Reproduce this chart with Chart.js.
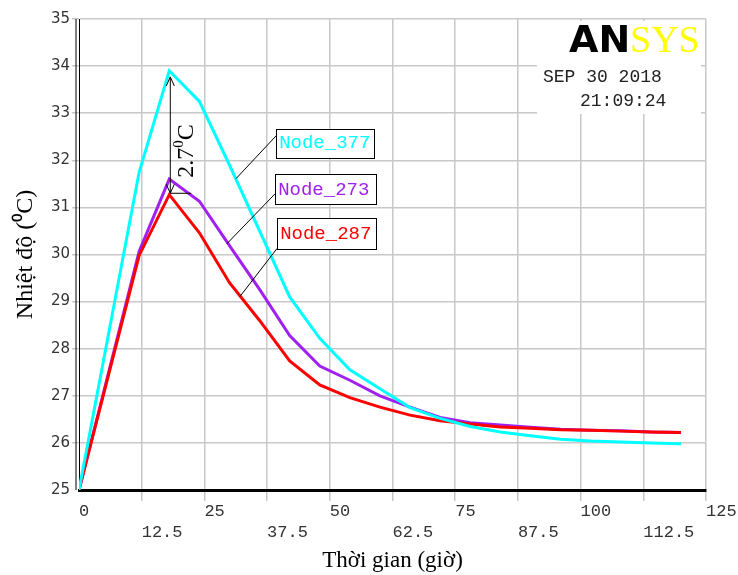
<!DOCTYPE html>
<html>
<head>
<meta charset="utf-8">
<script src="https://cdn.jsdelivr.net/npm/chart.js@4.4.0/dist/chart.umd.min.js"></script>
<style>
  body { margin: 0; background: #fff; }
</style>
</head>
<body>
<canvas id="chart" width="738" height="575"></canvas>
<script>
// time (hours) and node temperatures
const hours = [0, 12, 18, 24, 30, 36, 42, 48, 54, 60, 66, 72, 78, 84, 90, 96, 102, 108, 114, 120];
const node377 = [25, 31.75, 33.9, 33.25, 31.9, 30.5, 29.1, 28.22, 27.55, 27.15, 26.75, 26.52, 26.35, 26.23, 26.15, 26.08, 26.04, 26.02, 26.0, 25.98];
const node273 = [25, 30.07, 31.6, 31.13, 30.19, 29.26, 28.28, 27.63, 27.33, 27.0, 26.76, 26.54, 26.43, 26.38, 26.33, 26.29, 26.27, 26.26, 26.23, 26.22];
const node287 = [25, 29.98, 31.27, 30.46, 29.4, 28.6, 27.74, 27.23, 26.96, 26.76, 26.59, 26.47, 26.4, 26.34, 26.31, 26.28, 26.27, 26.25, 26.23, 26.22];

const seriesNames = ["Node_377", "Node_287", "Node_273"];
const seriesColors = ["#00ffff", "#ff0000", "#a020f0"];

const GRID = "#c8c8c8";
const pts = (vals) => hours.map((h, i) => ({ x: h, y: vals[i] }));

// labels, date stamp, the 2.7 arrow
const overlay = {
  id: "overlay",
  beforeDatasetsDraw(chart) {
    const { ctx, chartArea: a } = chart;
    ctx.save();
    // second line of the y axis
    ctx.strokeStyle = "#000";
    ctx.lineWidth = 1;
    ctx.beginPath();
    ctx.moveTo(a.left - 3, a.top);
    ctx.lineTo(a.left - 3, a.bottom);
    ctx.stroke();

    // ANSYS stamp
    ctx.fillStyle = "#fff";
    ctx.fillRect(a.right - 169, a.top + 2, 164, 93);
    ctx.textBaseline = "alphabetic";
    ctx.textAlign = "left";
    ctx.fillStyle = "#000";
    ctx.font = "bold 38px 'DejaVu Sans'";
    ctx.fillText("AN", 569, 52);
    ctx.fillStyle = "#ffff00";
    ctx.font = "38px 'Liberation Serif'";
    ctx.fillText("SYS", 630, 52);
    ctx.fillStyle = "#222";
    ctx.font = "18px 'Liberation Mono'";
    ctx.textBaseline = "middle";
    ctx.fillText("SEP 30 2018", 543, 77);
    ctx.fillText("21:09:24", 580, 101);
    ctx.restore();
  },
  afterDatasetsDraw(chart) {
    const { ctx } = chart;
    const x = chart.scales.x, y = chart.scales.y;
    const X = (v) => x.getPixelForValue(v), Y = (v) => y.getPixelForValue(v);
    ctx.save();
    ctx.strokeStyle = "#000";
    ctx.lineWidth = 1;

    // double arrow between the peaks
    const ax = X(18.2), top = Y(33.77), bot = Y(31.3);
    ctx.beginPath();
    ctx.moveTo(ax, top); ctx.lineTo(ax, bot);
    ctx.moveTo(ax - 4, top + 9); ctx.lineTo(ax, top); ctx.lineTo(ax + 4, top + 9);
    ctx.moveTo(ax - 4, bot - 9); ctx.lineTo(ax, bot); ctx.lineTo(ax + 4, bot - 9);
    ctx.moveTo(ax, bot); ctx.lineTo(ax + 21, bot);
    ctx.stroke();

    // "2.7°C" rotated
    ctx.save();
    ctx.translate(X(21.4), Y(32.2));
    ctx.rotate(-Math.PI / 2);
    ctx.fillStyle = "#000";
    ctx.textBaseline = "middle";
    ctx.textAlign = "left";
    ctx.font = "24px 'Liberation Serif'";
    const w1 = ctx.measureText("2.7").width;
    ctx.font = "15px 'Liberation Serif'";
    const w2 = ctx.measureText("0").width;
    ctx.font = "24px 'Liberation Serif'";
    const w3 = ctx.measureText("C").width;
    let sx = -(w1 + w2 + w3) / 2;
    ctx.fillText("2.7", sx, 0);
    ctx.font = "15px 'Liberation Serif'";
    ctx.fillText("0", sx + w1, -7);
    ctx.font = "24px 'Liberation Serif'";
    ctx.fillText("C", sx + w1 + w2, 0);
    ctx.restore();

    // node callout boxes with leader lines
    const boxes = [
      { name: seriesNames[0], color: seriesColors[0], t0: 39.3, t1: 58.9, T0: 32.67, T1: 32.06, lt: 31.3, lT: 31.61, at: 32.52 },
      { name: seriesNames[2], color: seriesColors[2], t0: 39.1, t1: 59.2, T0: 31.70, T1: 31.06, lt: 29.5, lT: 30.23, at: 31.29 },
      { name: seriesNames[1], color: seriesColors[1], t0: 39.5, t1: 59.2, T0: 30.77, T1: 30.11, lt: 32.1, lT: 29.11, at: 30.13 },
    ];
    boxes.forEach((b) => {
      const l = X(b.t0), r = X(b.t1), t = Y(b.T0), bt = Y(b.T1);
      ctx.strokeStyle = "#000";
      ctx.lineWidth = 1;
      ctx.beginPath();
      ctx.moveTo(l, Y(b.at));
      ctx.lineTo(X(b.lt), Y(b.lT));
      ctx.stroke();
      ctx.fillStyle = "#fff";
      ctx.fillRect(l, t, r - l, bt - t);
      ctx.strokeRect(Math.round(l) + 0.5, Math.round(t) + 0.5, Math.round(r - l), Math.round(bt - t));
      ctx.fillStyle = b.color;
      ctx.font = "19px 'Liberation Mono'";
      ctx.textAlign = "left";
      ctx.textBaseline = "middle";
      ctx.fillText(b.name, l + 3, (t + bt) / 2);
    });
    ctx.restore();
  },
};

new Chart(document.getElementById("chart"), {
  type: "line",
  data: {
    datasets: [
      { label: seriesNames[0], data: pts(node377), borderColor: seriesColors[0] },
      { label: seriesNames[1], data: pts(node287), borderColor: seriesColors[1] },
      { label: seriesNames[2], data: pts(node273), borderColor: seriesColors[2] },
    ],
  },
  options: {
    responsive: false,
    animation: false,
    layout: { padding: { top: 19, right: 32, left: 0, bottom: 0 } },
    elements: {
      point: { radius: 0 },
      line: { borderWidth: 3, tension: 0, fill: false },
    },
    plugins: {
      legend: { display: false },
      tooltip: { enabled: false },
    },
    scales: {
      x: {
        type: "linear",
        min: 0,
        max: 125,
        afterFit: (s) => { s.height = 85; },
        border: { color: "#000", width: 3 },
        grid: {
          color: (c) => (c.tick && c.tick.value === 0 ? "rgba(0,0,0,0)" : GRID),
          lineWidth: 1.5,
          tickLength: 11,
        },
        ticks: {
          stepSize: 12.5,
          autoSkip: false,
          maxRotation: 0,
          align: "start",
          padding: 0,
          color: "#333",
          font: { family: "'Liberation Mono'", size: 17, lineHeight: 1.25 },
          callback: (v) => (v % 25 === 0 ? String(v) : ["", String(v)]),
        },
        title: {
          display: true,
          text: "Thời gian (giờ)",
          color: "#000",
          font: { family: "'Liberation Serif'", size: 23 },
          padding: { top: 0, bottom: 0 },
        },
      },
      y: {
        min: 25,
        max: 35,
        afterFit: (s) => { s.width = 79; },
        border: { color: "#000", width: 1 },
        grid: {
          color: (c) => (c.tick && c.tick.value === 25 ? "rgba(0,0,0,0)" : GRID),
          lineWidth: 1.5,
          tickLength: 7,
        },
        ticks: {
          stepSize: 1,
          padding: 2,
          color: "#333",
          font: { family: "'DejaVu Sans'", size: 15 },
        },
        title: {
          display: true,
          text: "Nhiệt độ (⁰C)",
          color: "#000",
          font: { family: "'Liberation Serif'", size: 24 },
          padding: { top: 11, bottom: 0 },
        },
      },
    },
  },
  plugins: [overlay],
});
</script>
</body>
</html>
